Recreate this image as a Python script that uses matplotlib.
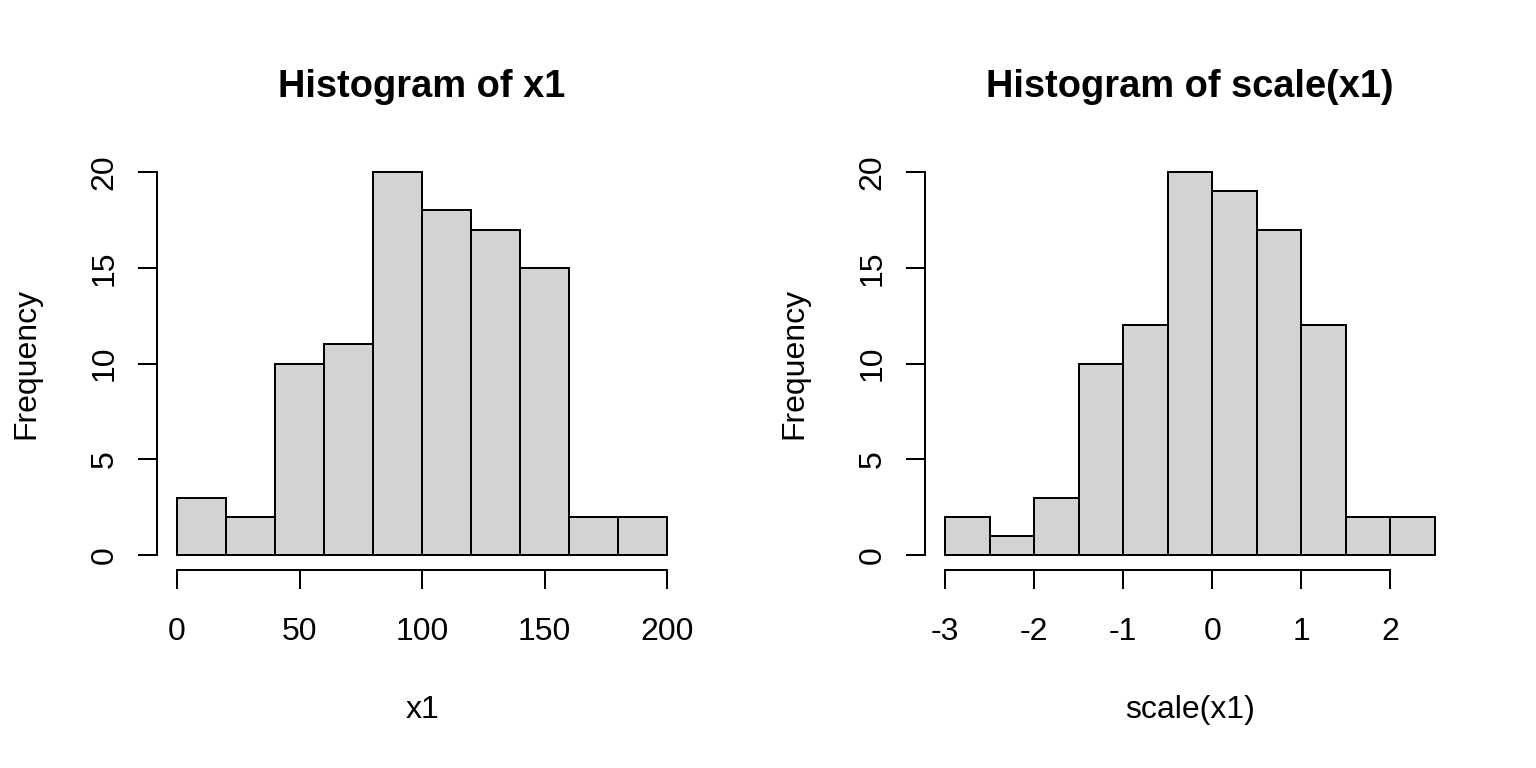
import matplotlib
matplotlib.use('Agg')
import matplotlib.pyplot as plt

plt.rcParams['font.family'] = ['Liberation Sans', 'DejaVu Sans']

# histogram of x1
edges1 = [0, 20, 40, 60, 80, 100, 120, 140, 160, 180, 200]
counts1 = [3, 2, 10, 11, 20, 18, 17, 15, 2, 2]
xticks1 = [0, 50, 100, 150, 200]

# histogram of scale(x1)
edges2 = [-3, -2.5, -2, -1.5, -1, -0.5, 0, 0.5, 1, 1.5, 2, 2.5]
counts2 = [2, 1, 3, 10, 12, 20, 19, 17, 12, 2, 2]
xticks2 = [-3, -2, -1, 0, 1, 2]

yticks = [0, 5, 10, 15, 20]

DPI = 144
fig = plt.figure(figsize=(1536 / DPI, 768 / DPI), dpi=DPI)


def r_hist(rect, edges, counts, xticks, title, xlabel):
    ax = fig.add_axes(rect)
    widths = [edges[i + 1] - edges[i] for i in range(len(counts))]
    ax.bar(edges[:-1], counts, width=widths, align='edge',
           color='#d3d3d3', edgecolor='black', linewidth=1.0)
    lo, hi = edges[0], edges[-1]
    pad = (hi - lo) * 0.04
    ax.set_xlim(lo - pad, hi + pad)
    ax.set_ylim(-0.8, 20.8)
    for s in ['top', 'right']:
        ax.spines[s].set_visible(False)
    ax.spines['left'].set_bounds(0, 20)
    ax.spines['bottom'].set_bounds(xticks[0], xticks[-1])
    for s in ['left', 'bottom']:
        ax.spines[s].set_linewidth(1.0)
    ax.set_xticks(xticks)
    ax.set_xticklabels([str(t) for t in xticks])
    ax.set_yticks(yticks)
    ax.set_yticklabels([str(t) for t in yticks], rotation=90, va='center')
    ax.tick_params(axis='both', direction='out', length=9.5, width=1.0,
                   labelsize=16)
    ax.tick_params(axis='x', pad=14)
    ax.tick_params(axis='y', pad=9.5)
    ax.set_title(title, fontsize=19, fontweight='bold', pad=30)
    ax.set_xlabel(xlabel, fontsize=16, labelpad=24)
    ax.set_ylabel('Frequency', fontsize=16, labelpad=24)
    return ax


r_hist([0.1025, 0.2574, 0.3445, 0.5385], edges1, counts1, xticks1,
       'Histogram of x1', 'x1')
r_hist([0.6025, 0.2574, 0.3445, 0.5385], edges2, counts2, xticks2,
       'Histogram of scale(x1)', 'scale(x1)')

fig.savefig('out.png', dpi=DPI)
